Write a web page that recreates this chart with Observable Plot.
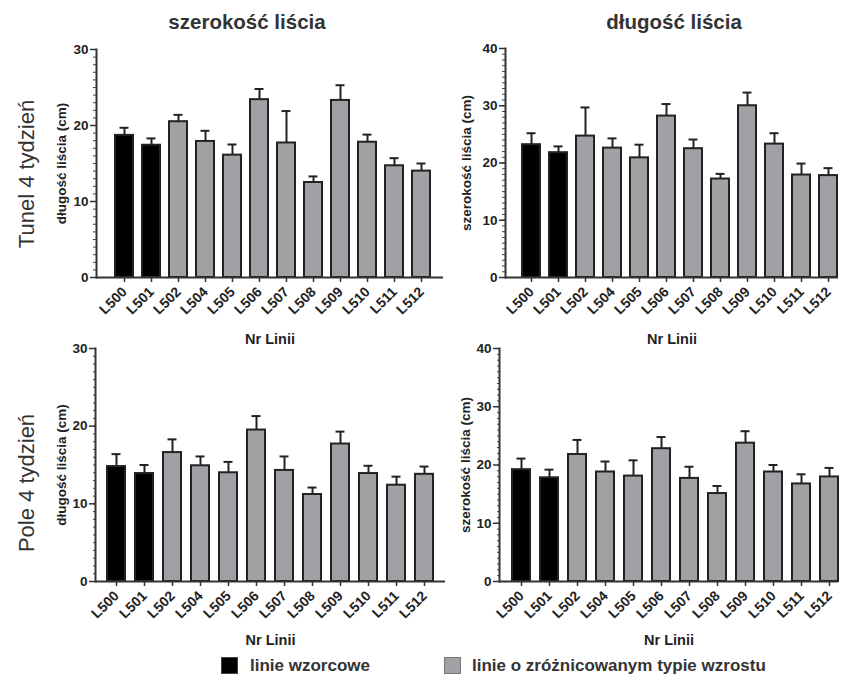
<!DOCTYPE html>
<html><head><meta charset="utf-8">
<script src="https://cdn.jsdelivr.net/npm/d3@7"></script>
<script src="https://cdn.jsdelivr.net/npm/@observablehq/plot@0.6"></script>
<style>
body{margin:0;background:#fff;font-family:"Liberation Sans",Arial,sans-serif;}
#root{position:relative;width:841px;height:678px;overflow:hidden;background:#fff;}
.panel{position:absolute;}
.title{position:absolute;font-weight:bold;font-size:20.5px;color:#333;transform:translate(-50%,-50%);white-space:nowrap;}
.row{position:absolute;font-size:22px;color:#333;transform:translate(-50%,-50%) rotate(-90deg);white-space:nowrap;}
.leg{position:absolute;font-weight:bold;font-size:17px;color:#333;white-space:nowrap;line-height:17px;}
.sw{position:absolute;width:17px;height:17px;border:1.5px solid #444;box-sizing:border-box;}
</style></head><body><div id="root"></div>
<script>
// ---- data ----
const lines = ["L500","L501","L502","L504","L505","L506","L507","L508","L509","L510","L511","L512"];
const groupNames = ["linie wzorcowe","linie o zróżnicowanym typie wzrostu"];
const groups = ["linie wzorcowe","linie wzorcowe","linie o zróżnicowanym typie wzrostu","linie o zróżnicowanym typie wzrostu","linie o zróżnicowanym typie wzrostu","linie o zróżnicowanym typie wzrostu","linie o zróżnicowanym typie wzrostu","linie o zróżnicowanym typie wzrostu","linie o zróżnicowanym typie wzrostu","linie o zróżnicowanym typie wzrostu","linie o zróżnicowanym typie wzrostu","linie o zróżnicowanym typie wzrostu"];
const columnTitles = ["szerokość liścia","długość liścia"];
const rowTitles = ["Tunel 4 tydzień","Pole 4 tydzień"];
const yLabels = ["długość liścia (cm)","szerokość liścia (cm)"];
const yMaxes = [30, 40];
const xLabel = "Nr Linii";

const tunelSzerMean = [18.7,17.4,20.5,17.9,16.1,23.4,17.7,12.5,23.3,17.8,14.7,14.0];
const tunelSzerSd   = [1.0,0.9,0.9,1.4,1.4,1.4,4.2,0.8,2.0,1.0,1.0,1.0];
const tunelDlMean   = [23.2,21.8,24.7,22.6,20.9,28.2,22.5,17.2,30.0,23.3,17.9,17.8];
const tunelDlSd     = [2.0,1.1,5.0,1.7,2.3,2.1,1.6,0.9,2.3,1.9,2.0,1.3];
const poleSzerMean  = [14.8,13.9,16.6,14.9,14.0,19.5,14.3,11.2,17.7,13.9,12.4,13.8];
const poleSzerSd    = [1.6,1.1,1.7,1.2,1.4,1.8,1.8,0.9,1.6,1.0,1.1,1.0];
const poleDlMean    = [19.2,17.8,21.8,18.8,18.1,22.8,17.7,15.1,23.75,18.8,16.75,17.95];
const poleDlSd      = [1.9,1.4,2.5,1.8,2.7,2.0,2.0,1.3,2.05,1.2,1.65,1.55];

const root = document.getElementById("root");

function makePanel(mean, sd, yMax, yLabel, o) {
  const data = lines.map((line, i) => ({line, group: groups[i], mean: mean[i], top: mean[i] + sd[i]}));
  return Plot.plot({
    width: o.width, height: o.height,
    marginLeft: o.ml, marginRight: o.mr, marginTop: o.mt, marginBottom: o.mb,
    style: {background: "none", fontFamily: "'Liberation Sans', Arial, sans-serif", fontSize: "13px", fontWeight: "bold", color: "#222", overflow: "visible"},
    x: {type: "band", domain: lines, paddingInner: o.pi, paddingOuter: o.po, align: o.al},
    y: {domain: [0, yMax]},
    color: {domain: groupNames, range: ["#000000", "#a0a0a5"]},
    marks: [
      Plot.ruleX(data, {x: "line", y1: "mean", y2: "top", stroke: "#222", strokeWidth: 2}),
      Plot.tickY(data, {x: "line", y: "top", stroke: "#222", strokeWidth: 2, insetLeft: 4.5, insetRight: 4.5}),
      Plot.barY(data, {x: "line", y: "mean", fill: "group", stroke: "#222", strokeWidth: 2}),
      Plot.axisY({ticks: d3.range(0, yMax + 1), tickSize: o.minor, tickFormat: () => "", label: null, stroke: "#444", strokeWidth: 1}),
      Plot.axisY({ticks: d3.range(0, yMax + 1, 10), tickSize: 6, tickPadding: 2, stroke: "#333", strokeWidth: 1.5, fontSize: 13.5, label: null}),
      Plot.axisY({ticks: [], label: yLabel, labelAnchor: "center", labelArrow: "none", labelOffset: o.lo, fontSize: 13.5}),
      Plot.axisX({tickRotate: -45, tickSize: 5, tickPadding: 7, stroke: "#333", strokeWidth: 1.5, fontSize: 14, label: null}),
      Plot.axisX({ticks: [], label: xLabel, labelAnchor: "center", labelArrow: "none", labelOffset: o.xo, fontSize: 14.5}),
      Plot.ruleY([0], {stroke: "#333", strokeWidth: 2}),
      Plot.frame({anchor: "left", stroke: "#333", strokeWidth: 2})
    ]
  });
}

function place(el, left, top) {
  el.classList.add("panel");
  el.style.left = left + "px";
  el.style.top = top + "px";
  root.appendChild(el);
}

place(makePanel(tunelSzerMean, tunelSzerSd, yMaxes[0], yLabels[0], {width: 445, height: 345, ml: 96, mr: 2, mt: 49, mb: 68, lo: 40, xo: 66, minor: 3, pi: 0.35, po: 0.43, al: 0.6}), 0, 0);
place(makePanel(tunelDlMean, tunelDlSd, yMaxes[1], yLabels[1], {width: 421, height: 345, ml: 85, mr: 3, mt: 48, mb: 68, lo: 44, xo: 66, minor: 3, pi: 0.35, po: 0.2, al: 0.9}), 420, 0);
place(makePanel(poleSzerMean, poleSzerSd, yMaxes[0], yLabels[0], {width: 445, height: 345, ml: 95, mr: 0, mt: 48, mb: 64, lo: 39, xo: 63, minor: 2, pi: 0.36, po: 0.37, al: 0.48}), 0, 300);
place(makePanel(poleDlMean, poleDlSd, yMaxes[1], yLabels[1], {width: 421, height: 345, ml: 79, mr: 3, mt: 48, mb: 64, lo: 39, xo: 63, minor: 2, pi: 0.36, po: 0.18, al: 1}), 420, 300);

function addDiv(cls, text, left, top) {
  const d = document.createElement("div");
  d.className = cls;
  d.textContent = text;
  d.style.left = left + "px";
  d.style.top = top + "px";
  root.appendChild(d);
  return d;
}
addDiv("title", columnTitles[0], 247, 22);
addDiv("title", columnTitles[1], 674, 22);
addDiv("row", rowTitles[0], 27, 174);
addDiv("row", rowTitles[1], 27, 483);

const sw1 = addDiv("sw", "", 221, 657); sw1.style.background = "#000";
addDiv("leg", groupNames[0], 250, 657);
const sw2 = addDiv("sw", "", 444, 657); sw2.style.background = "#a0a0a5"; sw2.style.borderColor = "#777";
addDiv("leg", groupNames[1], 472, 657);
</script>
</body></html>
